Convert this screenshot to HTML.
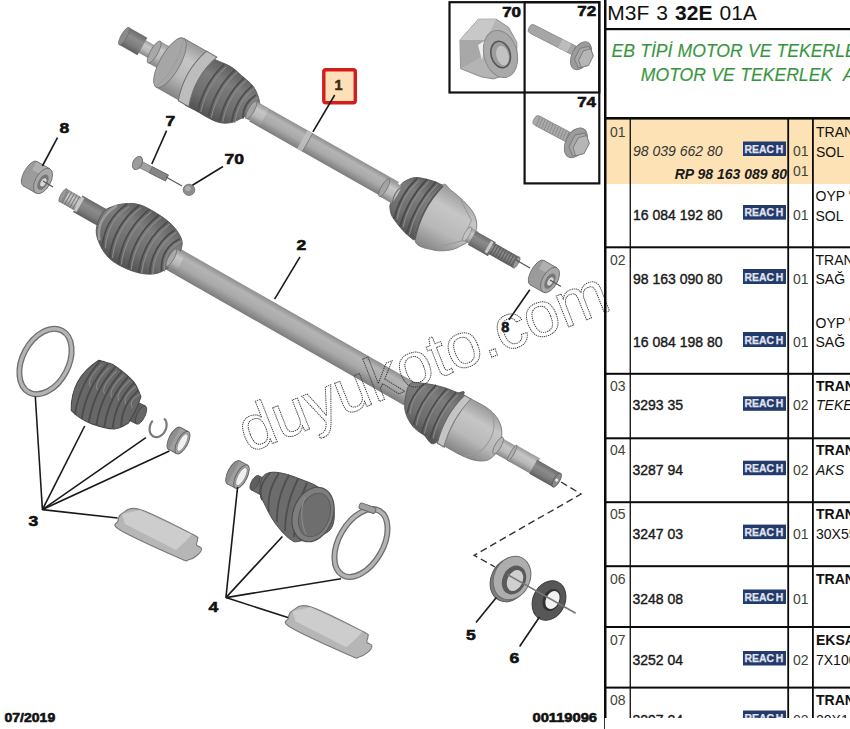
<!DOCTYPE html>
<html><head><meta charset="utf-8"><style>html,body{margin:0;padding:0;background:#fff;width:850px;height:729px;overflow:hidden}svg{display:block}</style></head>
<body><svg width="850" height="729" viewBox="0 0 850 729" font-family='"Liberation Sans", sans-serif'>
<defs>
<linearGradient id="gRod" x1="0" y1="0" x2="0" y2="1">
 <stop offset="0" stop-color="#8e8e8e"/><stop offset="0.25" stop-color="#b4b4b4"/><stop offset="0.6" stop-color="#a9a9a9"/><stop offset="1" stop-color="#7c7c7c"/></linearGradient>
<linearGradient id="gLight" x1="0" y1="0" x2="0" y2="1">
 <stop offset="0" stop-color="#9a9a9a"/><stop offset="0.3" stop-color="#c6c6c6"/><stop offset="0.65" stop-color="#b8b8b8"/><stop offset="1" stop-color="#858585"/></linearGradient>
<linearGradient id="gDark" x1="0" y1="0" x2="0" y2="1">
 <stop offset="0" stop-color="#6a6a6a"/><stop offset="0.35" stop-color="#8c8c8c"/><stop offset="0.7" stop-color="#7c7c7c"/><stop offset="1" stop-color="#5e5e5e"/></linearGradient>
<linearGradient id="gBoot" x1="0" y1="0" x2="0" y2="1">
 <stop offset="0" stop-color="#5e5e5e"/><stop offset="0.3" stop-color="#7c7c7c"/><stop offset="0.7" stop-color="#6e6e6e"/><stop offset="1" stop-color="#525252"/></linearGradient>
</defs>
<rect width="850" height="729" fill="#fff"/>
<g transform="translate(124.5,37.5) rotate(29.55)">
<rect x="150" y="-9.5" width="160" height="21.0" fill="url(#gRod)"/>
<rect x="205" y="-9.5" width="6" height="21" fill="#c2c2c2" opacity="0.8"/>
<line x1="211" y1="-9.5" x2="211" y2="11.5" stroke="#777" stroke-width="0.8"/>
<rect x="18" y="-8.2" width="16" height="14.4" fill="url(#gLight)"/>
<rect x="-1" y="-11" width="21" height="20" fill="url(#gDark)"/><ellipse cx="-1" cy="-1" rx="3.0" ry="10" fill="#8a8a8a" stroke="#6a6a6a" stroke-width="0.7"/>
<rect x="33" y="-14.5" width="13" height="25.0" fill="url(#gLight)"/><ellipse cx="33" cy="-2" rx="3.75" ry="12.5" fill="#a8a8a8" stroke="#6a6a6a" stroke-width="0.7"/>
<rect x="52" y="-28.5" width="28" height="56" fill="url(#gLight)"/>
<ellipse cx="52" cy="-0.5" rx="10" ry="28" fill="#a6a6a6" stroke="#7a7a7a" stroke-width="0.9"/>
<path d="M52,-28.5 Q62,-1 52,27.5" fill="none" stroke="#9a9a9a" stroke-width="0.8"/>
<line x1="52" y1="-28.5" x2="80" y2="-28.5" stroke="#7a7a7a" stroke-width="0.9"/><line x1="52" y1="27.5" x2="80" y2="27.5" stroke="#7a7a7a" stroke-width="0.9"/>
<path d="M86.0,-26.0 C86.7,-25.9 86.5,-25.3 90.0,-25.5 C93.5,-25.7 101.8,-27.2 107.0,-27.0 C112.2,-26.8 116.2,-25.5 121.0,-24.5 C125.8,-23.5 131.8,-22.8 136.0,-21.0 C140.2,-19.2 143.5,-16.2 146.0,-14.0 C148.5,-11.8 150.2,-9.0 151.0,-8.0 Q154.0,-5.5 151.0,-3.0 C150.6,-2.2 150.0,-0.5 148.5,2.0 C147.0,4.5 144.4,8.7 142.0,12.0 C139.6,15.3 137.5,19.3 134.0,22.0 C130.5,24.7 127.2,26.9 121.0,28.0 C114.8,29.1 102.8,28.3 97.0,28.5 C91.2,28.7 87.8,28.9 86.0,29.0 Q78.0,1.5 86.0,-26.0Z" fill="url(#gBoot)" stroke="#555" stroke-width="0.8"/>
<path d="M103,-25 Q95,1.0 103,27" fill="none" stroke="#8a8a8a" stroke-width="1.1"/>
<path d="M100,-26 Q92,1.0 100,28" fill="none" stroke="#4e4e4e" stroke-width="1.8"/>
<path d="M115,-25.5 Q107,0.75 115,27" fill="none" stroke="#8a8a8a" stroke-width="1.1"/>
<path d="M112,-26.5 Q104,0.75 112,28" fill="none" stroke="#4e4e4e" stroke-width="1.8"/>
<path d="M127,-23 Q119,1.0 127,25" fill="none" stroke="#8a8a8a" stroke-width="1.1"/>
<path d="M124,-24 Q116,1.0 124,26" fill="none" stroke="#4e4e4e" stroke-width="1.8"/>
<path d="M138,-20 Q130,0.0 138,20" fill="none" stroke="#8a8a8a" stroke-width="1.1"/>
<path d="M135,-21 Q127,0.0 135,21" fill="none" stroke="#4e4e4e" stroke-width="1.8"/>
<path d="M146,-14 Q138,-1.5 146,11" fill="none" stroke="#8a8a8a" stroke-width="1.1"/>
<path d="M143,-15 Q135,-1.5 143,12" fill="none" stroke="#4e4e4e" stroke-width="1.8"/>
<path d="M78,-28.5 L90,-28.5 Q80,0 90,28.5 L78,28.5 Q68,0 78,-28.5Z" fill="#bdbdbd" stroke="#6e6e6e" stroke-width="1"/>
<rect x="146" y="-9.5" width="15" height="20" fill="url(#gLight)"/><ellipse cx="146" cy="0.5" rx="3.0" ry="10" fill="#a6a6a6" stroke="#6a6a6a" stroke-width="0.7"/>
<path d="M314.0,-12.0 C315.3,-13.6 317.8,-19.1 322.0,-21.6 C326.2,-24.2 334.2,-26.2 339.0,-27.3 C343.8,-28.4 349.0,-28.3 351.0,-28.5 Q355.0,2.6 351.0,33.6 C348.8,33.1 342.5,32.3 337.5,30.6 C332.5,28.9 324.9,26.0 321.0,23.6 C317.1,21.2 315.2,17.3 314.0,16.0 Q309.0,2.0 314.0,-12.0Z" fill="url(#gBoot)" stroke="#555" stroke-width="0.8"/>
<path d="M327,-21 Q319,1.5 327,24" fill="none" stroke="#8a8a8a" stroke-width="1.1"/>
<path d="M324,-22 Q317,1.5 324,25" fill="none" stroke="#4a4a4a" stroke-width="1.8"/>
<path d="M336,-25 Q328,1.5 336,28" fill="none" stroke="#8a8a8a" stroke-width="1.1"/>
<path d="M333,-26 Q326,1.5 333,29" fill="none" stroke="#4a4a4a" stroke-width="1.8"/>
<path d="M345,-27 Q337,2.0 345,31" fill="none" stroke="#8a8a8a" stroke-width="1.1"/>
<path d="M342,-28 Q335,2.0 342,32" fill="none" stroke="#4a4a4a" stroke-width="1.8"/>
<rect x="300" y="-7.5" width="15" height="20" fill="url(#gLight)"/><ellipse cx="300" cy="2.5" rx="3.0" ry="10" fill="#a4a4a4" stroke="#6a6a6a" stroke-width="0.7"/>
<path d="M315,-7.5 Q310,2.5 315,12.5" fill="none" stroke="#666" stroke-width="1"/>
<path d="M349.0,-28.0 C351.3,-33.2 354.7,-28.7 359.0,-28.2 C363.3,-27.7 369.8,-26.6 375.0,-25.1 C380.2,-23.7 386.0,-21.9 390.0,-19.5 C394.0,-17.1 397.0,-14.1 399.0,-10.5 C401.0,-6.9 402.4,-2.0 402.0,2.0 C401.6,6.0 398.9,9.6 396.7,13.3 C394.4,17.0 392.4,20.8 388.5,24.0 C384.6,27.2 378.9,31.1 373.0,32.7 C367.1,34.3 357.7,38.6 353.0,33.6 C348.3,28.7 345.7,13.3 345.0,3.0 C344.3,-7.3 346.7,-22.8 349.0,-28.0Z" fill="url(#gLight)" stroke="#7a7a7a" stroke-width="0.8"/>
<path d="M350,-28 Q342,3 352,33" fill="none" stroke="#5a5a5a" stroke-width="2.2"/>
<path d="M372,-25 L392,-12 L394,10 L376,28" fill="none" stroke="#9a9a9a" stroke-width="1"/>
<rect x="393" y="-5.5" width="11" height="15.0" fill="url(#gLight)"/>
<ellipse cx="395" cy="2" rx="2.5" ry="8" fill="#c4c4c4" stroke="#888" stroke-width="0.7"/>
<rect x="401" y="-5" width="23" height="16" fill="url(#gDark)"/>
<rect x="420" y="-3.8" width="32" height="12.6" fill="url(#gDark)"/>
<rect x="419" y="-4" width="3" height="13" fill="#c8c8c8"/>
<line x1="425" y1="-3.5" x2="425" y2="8.5" stroke="#5a5a5a" stroke-width="1"/>
<line x1="428" y1="-3.5" x2="428" y2="8.5" stroke="#5a5a5a" stroke-width="1"/>
<line x1="431" y1="-3.5" x2="431" y2="8.5" stroke="#5a5a5a" stroke-width="1"/>
<line x1="434" y1="-3.5" x2="434" y2="8.5" stroke="#5a5a5a" stroke-width="1"/>
<line x1="437" y1="-3.5" x2="437" y2="8.5" stroke="#5a5a5a" stroke-width="1"/>
<line x1="440" y1="-3.5" x2="440" y2="8.5" stroke="#5a5a5a" stroke-width="1"/>
<line x1="443" y1="-3.5" x2="443" y2="8.5" stroke="#5a5a5a" stroke-width="1"/>
<line x1="446" y1="-3.5" x2="446" y2="8.5" stroke="#5a5a5a" stroke-width="1"/>
<line x1="449" y1="-3.5" x2="449" y2="8.5" stroke="#5a5a5a" stroke-width="1"/>
<ellipse cx="452" cy="2.5" rx="2" ry="6.3" fill="#999" stroke="#666" stroke-width="0.7"/>
</g>
<g transform="translate(62,197) rotate(29.68)">
<rect x="125" y="-13.6" width="275" height="25.2" fill="url(#gRod)"/>
<rect x="17" y="-11.5" width="29" height="19.0" fill="url(#gDark)"/>
<rect x="0" y="-9.5" width="19" height="15.0" fill="url(#gLight)"/><ellipse cx="0" cy="-2" rx="2.1" ry="7.5" fill="#999" stroke="#6a6a6a" stroke-width="0.7"/>
<rect x="17" y="-10" width="3" height="16" fill="#c8c8c8"/>
<line x1="3" y1="-9.5" x2="3" y2="5.5" stroke="#777" stroke-width="0.9"/>
<line x1="6" y1="-9.5" x2="6" y2="5.5" stroke="#777" stroke-width="0.9"/>
<line x1="9" y1="-9.5" x2="9" y2="5.5" stroke="#777" stroke-width="0.9"/>
<line x1="12" y1="-9.5" x2="12" y2="5.5" stroke="#777" stroke-width="0.9"/>
<line x1="15" y1="-9.5" x2="15" y2="5.5" stroke="#777" stroke-width="0.9"/>
<path d="M43.0,-6.0 C43.3,-10.6 45.5,-12.8 48.0,-16.0 C50.5,-19.2 54.1,-22.8 58.0,-25.4 C61.9,-28.0 66.1,-30.6 71.5,-31.8 C76.9,-33.0 84.0,-32.9 90.3,-32.7 C96.5,-32.5 103.5,-31.9 109.0,-30.4 C114.5,-28.9 120.3,-26.1 123.6,-23.5 C126.9,-20.9 127.9,-18.9 129.0,-15.0 C130.1,-11.1 130.3,-4.0 130.0,0.0 C129.7,4.0 128.7,5.9 127.0,9.2 C125.3,12.5 123.3,16.6 120.0,19.6 C116.7,22.6 112.1,25.2 107.0,27.0 C101.9,28.8 95.5,30.1 89.6,30.6 C83.7,31.1 77.2,31.2 71.8,29.9 C66.4,28.6 61.3,26.1 57.0,23.0 C52.7,19.9 48.3,16.4 46.0,11.6 C43.7,6.8 42.7,-1.4 43.0,-6.0Z" fill="url(#gBoot)" stroke="#555" stroke-width="0.8"/>
<path d="M52,-20 Q40,3 54,19" fill="none" stroke="#9a9a9a" stroke-width="2.5"/>
<path d="M63,-25 Q51,-1.0 63,23" fill="none" stroke="#8a8a8a" stroke-width="1.2"/>
<path d="M60,-26 Q48,-1.0 60,24" fill="none" stroke="#4a4a4a" stroke-width="1.7"/>
<path d="M74,-30 Q62,-1.0 74,28" fill="none" stroke="#8a8a8a" stroke-width="1.2"/>
<path d="M71,-31 Q59,-1.0 71,29" fill="none" stroke="#4a4a4a" stroke-width="1.7"/>
<path d="M85,-31.5 Q73,-1.0 85,29.5" fill="none" stroke="#8a8a8a" stroke-width="1.2"/>
<path d="M82,-32.5 Q70,-1.0 82,30.5" fill="none" stroke="#4a4a4a" stroke-width="1.7"/>
<path d="M96,-31.5 Q84,-1.25 96,29" fill="none" stroke="#8a8a8a" stroke-width="1.2"/>
<path d="M93,-32.5 Q81,-1.25 93,30" fill="none" stroke="#4a4a4a" stroke-width="1.7"/>
<path d="M107,-30 Q95,-1.5 107,27" fill="none" stroke="#8a8a8a" stroke-width="1.2"/>
<path d="M104,-31 Q92,-1.5 104,28" fill="none" stroke="#4a4a4a" stroke-width="1.7"/>
<path d="M117,-26 Q105,-2.0 117,22" fill="none" stroke="#8a8a8a" stroke-width="1.2"/>
<path d="M114,-27 Q102,-2.0 114,23" fill="none" stroke="#4a4a4a" stroke-width="1.7"/>
<path d="M126,-21 Q114,-3.5 126,14" fill="none" stroke="#8a8a8a" stroke-width="1.2"/>
<path d="M123,-22 Q111,-3.5 123,15" fill="none" stroke="#4a4a4a" stroke-width="1.7"/>
<rect x="125" y="-11.5" width="11" height="20" fill="url(#gLight)"/><ellipse cx="125" cy="-1.5" rx="2.8000000000000003" ry="10" fill="#a8a8a8" stroke="#6a6a6a" stroke-width="0.7"/>
<path d="M395.0,-10.0 C396.3,-13.7 401.2,-14.8 406.0,-17.0 C410.8,-19.2 417.9,-21.5 423.6,-23.0 C429.3,-24.5 436.1,-25.3 440.0,-25.8 C443.9,-26.3 445.8,-34.8 447.0,-26.0 C448.2,-17.2 449.5,18.1 447.0,27.0 C444.5,35.9 436.8,27.9 432.0,27.6 C427.2,27.3 422.5,27.2 418.0,25.4 C413.5,23.6 408.3,20.4 405.0,17.0 C401.7,13.6 399.7,9.5 398.0,5.0 C396.3,0.5 393.7,-6.3 395.0,-10.0Z" fill="url(#gBoot)" stroke="#555" stroke-width="0.8"/>
<path d="M410,-16 Q402,0.0 410,16" fill="none" stroke="#8a8a8a" stroke-width="1.1"/>
<path d="M407,-17 Q401,0.0 407,17" fill="none" stroke="#4a4a4a" stroke-width="1.6"/>
<path d="M421,-21 Q413,1.0 421,23" fill="none" stroke="#8a8a8a" stroke-width="1.1"/>
<path d="M418,-22 Q412,1.0 418,24" fill="none" stroke="#4a4a4a" stroke-width="1.6"/>
<path d="M432,-23 Q424,1.5 432,26" fill="none" stroke="#8a8a8a" stroke-width="1.1"/>
<path d="M429,-24 Q423,1.5 429,27" fill="none" stroke="#4a4a4a" stroke-width="1.6"/>
<path d="M442,-24.5 Q434,0.75 442,26" fill="none" stroke="#8a8a8a" stroke-width="1.1"/>
<path d="M439,-25.5 Q433,0.75 439,27" fill="none" stroke="#4a4a4a" stroke-width="1.6"/>
<path d="M448,-27 Q440,0 448,28 L456,28 Q448,0 456,-27Z" fill="#c4c4c4" stroke="#666" stroke-width="1"/>
<path d="M455,-27 L470,-27.5 C485,-27 495,-21 500,-11 C505,-1 506,10 500,18 C494,24 485,26.5 470,27 L455,27 Q449,0 455,-27Z" fill="url(#gLight)" stroke="#7a7a7a" stroke-width="0.8"/>
<path d="M478,-27 C488,-20 492,-10 492,0 C492,10 488,20 478,26" fill="none" stroke="#9a9a9a" stroke-width="1"/>
<rect x="500" y="-8.5" width="20" height="17.0" fill="url(#gLight)"/>
<ellipse cx="502" cy="0" rx="3" ry="9.5" fill="#b8b8b8" stroke="#777" stroke-width="0.8"/>
<rect x="518" y="-9.5" width="27" height="18" fill="url(#gLight)"/><ellipse cx="518" cy="-0.5" rx="1.8" ry="9" fill="#b0b0b0" stroke="#6a6a6a" stroke-width="0.7"/>
<rect x="543" y="-7" width="27" height="16" fill="url(#gDark)"/>
<ellipse cx="570" cy="1" rx="3" ry="8" fill="#8a8a8a" stroke="#555" stroke-width="0.8"/>
<circle cx="570" cy="1" r="1.5" fill="#eee"/>
</g>
<g transform="translate(43,181) rotate(29.6)"><ellipse cx="-15" cy="0" rx="6" ry="14" fill="#9a9a9a" stroke="#6a6a6a" stroke-width="0.8"/><rect x="-15" y="-14" width="15" height="28" fill="#9c9c9c"/><rect x="-15" y="-13.5" width="15" height="9" fill="#b0b0b0"/><line x1="-15" y1="-14" x2="0" y2="-14" stroke="#6a6a6a" stroke-width="0.8"/><line x1="-15" y1="14" x2="0" y2="14" stroke="#6a6a6a" stroke-width="0.8"/><ellipse cx="0" cy="0" rx="7.5" ry="14" fill="#a8a8a8" stroke="#6a6a6a" stroke-width="0.8"/><ellipse cx="0.5" cy="1" rx="4.5" ry="8.5" fill="#777" /><ellipse cx="1" cy="1" rx="2.5" ry="4.5" fill="#d8d8d8" /></g>
<line x1="43" y1="181" x2="53" y2="187" stroke="#555" stroke-width="1.3" />
<line x1="516" y1="260" x2="530" y2="268" stroke="#555" stroke-width="1.3" />
<g transform="translate(550,280) rotate(29.6)"><ellipse cx="-15" cy="0" rx="6" ry="14" fill="#9a9a9a" stroke="#6a6a6a" stroke-width="0.8"/><rect x="-15" y="-14" width="15" height="28" fill="#9c9c9c"/><rect x="-15" y="-13.5" width="15" height="9" fill="#b0b0b0"/><line x1="-15" y1="-14" x2="0" y2="-14" stroke="#6a6a6a" stroke-width="0.8"/><line x1="-15" y1="14" x2="0" y2="14" stroke="#6a6a6a" stroke-width="0.8"/><ellipse cx="0" cy="0" rx="7.5" ry="14" fill="#a8a8a8" stroke="#6a6a6a" stroke-width="0.8"/><ellipse cx="0.5" cy="1" rx="4.5" ry="8.5" fill="#777" /><ellipse cx="1" cy="1" rx="2.5" ry="4.5" fill="#d8d8d8" /></g>
<line x1="550" y1="280" x2="561" y2="286.5" stroke="#555" stroke-width="1.3" />
<g transform="translate(137.5,163) rotate(27)"><rect x="0" y="-3.3" width="33" height="6.6" fill="#a2a2a2" stroke="#7a7a7a" stroke-width="0.7"/><rect x="15" y="-3.3" width="18" height="6.6" fill="#858585" stroke="#666" stroke-width="0.7"/><ellipse cx="0" cy="0" rx="4.5" ry="7" fill="#9c9c9c" stroke="#6e6e6e" stroke-width="0.9"/></g>
<line x1="166" y1="177" x2="182" y2="186" stroke="#555" stroke-width="1.2" />
<ellipse cx="189" cy="189.8" rx="5.8" ry="5.6" fill="#8e8e8e" stroke="#6a6a6a" stroke-width="0.8"/>
<ellipse cx="188" cy="188.5" rx="2.8" ry="2.5" fill="#b0b0b0"/>
<text x="0" y="0" font-size="15" font-weight="bold" fill="#111" stroke="#111" stroke-width="0.6" text-anchor="start" transform="translate(59.5,133.4) scale(1.17,1)">8</text>
<line x1="57.5" y1="137.7" x2="42.4" y2="166" stroke="#1a1a1a" stroke-width="1.6" />
<text x="0" y="0" font-size="15" font-weight="bold" fill="#111" stroke="#111" stroke-width="0.6" text-anchor="start" transform="translate(165.5,126) scale(1.17,1)">7</text>
<line x1="166.6" y1="130.6" x2="151.8" y2="164" stroke="#1a1a1a" stroke-width="1.6" />
<text x="0" y="0" font-size="15" font-weight="bold" fill="#111" stroke="#111" stroke-width="0.6" text-anchor="start" transform="translate(224.5,164) scale(1.17,1)">70</text>
<line x1="223" y1="166.5" x2="192.4" y2="185.3" stroke="#1a1a1a" stroke-width="1.6" />
<text x="0" y="0" font-size="15" font-weight="bold" fill="#111" stroke="#111" stroke-width="0.6" text-anchor="start" transform="translate(296.5,250) scale(1.17,1)">2</text>
<line x1="300" y1="256.8" x2="274.6" y2="299.2" stroke="#1a1a1a" stroke-width="1.6" />
<text x="0" y="0" font-size="14.5" font-weight="bold" fill="#111" stroke="#111" stroke-width="0.6" text-anchor="start" transform="translate(501.2,331.5) scale(1.0,1)">8</text>
<line x1="529.8" y1="289.8" x2="509" y2="319.7" stroke="#1a1a1a" stroke-width="1.6" />
<rect x="323.8" y="69.8" width="31.5" height="33" rx="2" fill="#fde0b8" stroke="#d41c1c" stroke-width="3.4"/>
<text x="334.5" y="90.3" font-size="14.5" font-weight="bold" fill="#3a2c14" stroke="#3a2c14" stroke-width="0.5">1</text>
<line x1="334.7" y1="95" x2="312.9" y2="131.8" stroke="#1a1a1a" stroke-width="1.6" />
<ellipse cx="45.5" cy="361.5" rx="23" ry="35" fill="none" stroke="#6e6e6e" stroke-width="6" transform="rotate(28 45.5 361.5)"/>
<ellipse cx="45.5" cy="361.5" rx="23" ry="35" fill="none" stroke="#b4b4b4" stroke-width="3.4" transform="rotate(28 45.5 361.5)"/>
<g transform="translate(79.7,385.7) rotate(25.5)">
<rect x="58" y="-10" width="10" height="20" fill="#5e5e5e" stroke="#444" stroke-width="0.8"/>
<ellipse cx="68" cy="0" rx="4" ry="10" fill="#666" stroke="#444" stroke-width="0.8"/>
<path d="M6.0,-31.0 C7.3,-31.2 10.8,-32.2 14.0,-32.5 C17.2,-32.8 19.5,-33.8 25.0,-32.8 C30.5,-31.8 41.2,-29.4 47.0,-26.7 C52.8,-24.0 57.8,-18.2 60.0,-16.5 Q62.0,-1.8 60.0,13.0 C58.3,14.9 55.2,21.5 49.8,24.2 C44.4,26.9 33.9,28.6 27.6,29.3 C21.3,30.0 16.1,29.1 12.0,28.5 C7.9,27.9 4.5,26.4 3.0,26.0 Q-11.5,-2.5 6.0,-31.0Z" fill="#676767" stroke="#444" stroke-width="1"/>
<path d="M8,-32 Q-1,-2.0 8,28" fill="none" stroke="#4a4a4a" stroke-width="1.8"/>
<path d="M11,-29 Q3,-8.0 10,-4.0" fill="none" stroke="#8a8a8a" stroke-width="1"/>
<path d="M16,-32.3 Q7,-1.6499999999999986 16,29" fill="none" stroke="#4a4a4a" stroke-width="1.8"/>
<path d="M19,-29.299999999999997 Q11,-7.649999999999999 18,-3.6499999999999986" fill="none" stroke="#8a8a8a" stroke-width="1"/>
<path d="M24,-32.4 Q15,-1.549999999999999 24,29.3" fill="none" stroke="#4a4a4a" stroke-width="1.8"/>
<path d="M27,-29.4 Q19,-7.549999999999999 26,-3.549999999999999" fill="none" stroke="#8a8a8a" stroke-width="1"/>
<path d="M32,-31.5 Q23,-1.5 32,28.5" fill="none" stroke="#4a4a4a" stroke-width="1.8"/>
<path d="M35,-28.5 Q27,-7.5 34,-3.5" fill="none" stroke="#8a8a8a" stroke-width="1"/>
<path d="M40,-29.5 Q31,-1.5 40,26.5" fill="none" stroke="#4a4a4a" stroke-width="1.8"/>
<path d="M43,-26.5 Q35,-7.5 42,-3.5" fill="none" stroke="#8a8a8a" stroke-width="1"/>
<path d="M48,-26.5 Q39,-1.25 48,24" fill="none" stroke="#4a4a4a" stroke-width="1.8"/>
<path d="M51,-23.5 Q43,-7.25 50,-3.25" fill="none" stroke="#8a8a8a" stroke-width="1"/>
<path d="M55,-21 Q46,-1.0 55,19" fill="none" stroke="#4a4a4a" stroke-width="1.8"/>
<path d="M58,-18 Q50,-7.0 57,-3.0" fill="none" stroke="#8a8a8a" stroke-width="1"/>
</g>
<polyline points="164.7,419.2 165.2,419.8 165.6,420.4 165.9,421.1 166.2,421.9 166.4,422.7 166.5,423.5 166.6,424.3 166.6,425.2 166.5,426.0 166.4,426.9 166.3,427.8 166.0,428.7 165.7,429.5 165.4,430.4 164.9,431.2 164.5,432.0 164.0,432.7 163.4,433.4 162.8,434.1 162.2,434.7 161.5,435.2 160.8,435.7 160.1,436.1 159.4,436.5 158.6,436.7 157.9,436.9 157.1,437.1 156.4,437.1 155.7,437.1 155.0,437.0 154.3,436.8 153.7,436.5 153.0,436.2 152.5,435.8 151.9,435.3 151.5,434.8 151.0,434.2 150.6,433.6 150.3,432.9 150.0,432.1 149.8,431.3 149.7,430.5 149.6,429.7 149.6,428.8 149.7,428.0 149.8,427.1 149.9,426.2 150.2,425.3 150.5,424.5 150.8,423.6 151.3,422.8 151.7,422.0 152.2,421.3" fill="none" stroke="#7a7a7a" stroke-width="2.2" stroke-linecap="round"/>
<g transform="translate(178.5,440.5) rotate(28)"><ellipse cx="-4.5" cy="0" rx="5.25" ry="12.5" fill="#8e8e8e" stroke="#5e5e5e" stroke-width="0.9"/><rect x="-4.5" y="-12.5" width="9" height="25.0" fill="#9e9e9e"/><line x1="-4.5" y1="-12.5" x2="4.5" y2="-12.5" stroke="#5e5e5e" stroke-width="0.9"/><line x1="-4.5" y1="12.5" x2="4.5" y2="12.5" stroke="#5e5e5e" stroke-width="0.9"/><ellipse cx="4.5" cy="0" rx="5.25" ry="12.5" fill="#a4a4a4" stroke="#5e5e5e" stroke-width="0.9"/><ellipse cx="4.5" cy="0" rx="3.5000000000000004" ry="9.75" fill="#f0f0f0" stroke="#777" stroke-width="0.6"/></g>
<line x1="35.3" y1="396.5" x2="42.4" y2="509.6" stroke="#1a1a1a" stroke-width="1.6" />
<line x1="84.7" y1="426" x2="42.4" y2="509.6" stroke="#1a1a1a" stroke-width="1.6" />
<line x1="145.9" y1="437.6" x2="42.4" y2="509.6" stroke="#1a1a1a" stroke-width="1.6" />
<line x1="169.4" y1="451" x2="42.4" y2="509.6" stroke="#1a1a1a" stroke-width="1.6" />
<line x1="42.4" y1="509.6" x2="117.6" y2="518" stroke="#1a1a1a" stroke-width="1.6" />
<text x="0" y="0" font-size="15" font-weight="bold" fill="#111" stroke="#111" stroke-width="0.6" text-anchor="start" transform="translate(28.5,526) scale(1.17,1)">3</text>
<path d="M118.0,521.0 C118.3,518.2 118.3,515.4 122.0,513.5 C125.7,511.6 128.3,506.1 140.0,509.5 C151.7,512.9 182.4,529.1 192.0,534.0 C201.6,538.9 196.8,537.2 197.5,539.0 C198.2,540.8 195.8,543.4 196.5,545.0 C197.2,546.6 201.4,546.8 201.5,548.5 C201.6,550.2 199.2,553.6 197.0,555.5 C194.8,557.4 191.0,559.6 188.0,560.0 C185.0,560.4 190.3,563.0 179.0,558.0 C167.7,553.0 130.2,536.2 120.0,530.0 C109.8,523.8 117.7,523.8 118.0,521.0Z" fill="#b6b6b6" stroke="#7a7a7a" stroke-width="1.1"/>
<polygon points="122.0,514.0 140.0,510.0 192.0,534.5 186.0,541.0 176.0,550.0 125.0,524.0" fill="#cdcdcd"/>
<g transform="translate(237.5,474.5) rotate(28)"><ellipse cx="-4.5" cy="0" rx="5.46" ry="13" fill="#8e8e8e" stroke="#5e5e5e" stroke-width="0.9"/><rect x="-4.5" y="-13" width="9" height="26" fill="#9e9e9e"/><line x1="-4.5" y1="-13" x2="4.5" y2="-13" stroke="#5e5e5e" stroke-width="0.9"/><line x1="-4.5" y1="13" x2="4.5" y2="13" stroke="#5e5e5e" stroke-width="0.9"/><ellipse cx="4.5" cy="0" rx="5.46" ry="13" fill="#a4a4a4" stroke="#5e5e5e" stroke-width="0.9"/><ellipse cx="4.5" cy="0" rx="3.6400000000000006" ry="10.14" fill="#f0f0f0" stroke="#777" stroke-width="0.6"/></g>
<g transform="translate(261,486) rotate(28)"><rect x="-7" y="-8" width="12" height="16" fill="#6a6a6a" stroke="#4a4a4a" stroke-width="0.8"/><ellipse cx="-7" cy="0" rx="3.5" ry="8" fill="#5e5e5e" stroke="#4a4a4a" stroke-width="0.8"/></g>
<path d="M262.0,478.0 C263.7,474.8 266.4,473.2 270.0,472.5 C273.6,471.8 278.5,472.4 283.5,473.5 C288.5,474.6 294.0,476.6 300.0,479.0 C306.0,481.4 314.0,483.7 319.5,488.0 C325.0,492.3 331.2,498.0 333.0,505.0 C334.8,512.0 335.4,524.0 330.0,530.0 C324.6,536.0 307.2,539.5 300.5,541.0 C293.8,542.5 294.1,542.0 289.9,539.0 C285.6,536.0 279.3,529.0 275.0,523.0 C270.7,517.0 266.5,508.2 264.0,503.0 C261.5,497.8 260.3,496.2 260.0,492.0 C259.7,487.8 260.3,481.2 262.0,478.0Z" fill="#6c6c6c" stroke="#4a4a4a" stroke-width="1"/>
<path d="M270,473 Q257,486.5 262,500" fill="none" stroke="#4e4e4e" stroke-width="1.8"/>
<path d="M279,473 Q266,492.5 269,512" fill="none" stroke="#4e4e4e" stroke-width="1.8"/>
<path d="M289,475 Q276,498.5 277,522" fill="none" stroke="#4e4e4e" stroke-width="1.8"/>
<path d="M298,479 Q285,505.0 285,531" fill="none" stroke="#4e4e4e" stroke-width="1.8"/>
<path d="M307,483 Q294,510.0 294,537" fill="none" stroke="#4e4e4e" stroke-width="1.8"/>
<ellipse cx="313" cy="514.5" rx="20" ry="28" fill="#7e7e7e" stroke="#4e4e4e" stroke-width="1.2" transform="rotate(20 313 514.5)"/>
<ellipse cx="314.5" cy="515" rx="15" ry="22.5" fill="#6e6e6e" stroke="#5a5a5a" stroke-width="1" transform="rotate(20 314.5 515)"/>
<path d="M305,497 Q298,515 306,535" fill="none" stroke="#888" stroke-width="1.2"/>
<ellipse cx="361" cy="543" rx="22" ry="37" fill="none" stroke="#6e6e6e" stroke-width="6" transform="rotate(30 361 543)"/>
<ellipse cx="361" cy="543" rx="22" ry="37" fill="none" stroke="#b4b4b4" stroke-width="3.4" transform="rotate(30 361 543)"/>
<rect x="359" y="505" width="17" height="6" rx="2" fill="#a0a0a0" stroke="#666" stroke-width="1" transform="rotate(20 367 508)"/>
<line x1="237.6" y1="487" x2="225.9" y2="597.6" stroke="#1a1a1a" stroke-width="1.6" />
<line x1="282.4" y1="536.5" x2="225.9" y2="597.6" stroke="#1a1a1a" stroke-width="1.6" />
<line x1="341" y1="578.8" x2="225.9" y2="597.6" stroke="#1a1a1a" stroke-width="1.6" />
<line x1="289.4" y1="617.9" x2="225.9" y2="597.6" stroke="#1a1a1a" stroke-width="1.6" />
<text x="0" y="0" font-size="15" font-weight="bold" fill="#111" stroke="#111" stroke-width="0.6" text-anchor="start" transform="translate(208.5,612) scale(1.17,1)">4</text>
<path d="M288.4,618.2 C288.7,615.5 288.7,612.6 292.4,610.7 C296.1,608.8 298.7,603.3 310.4,606.7 C322.1,610.1 352.8,626.3 362.4,631.2 C372.0,636.1 367.1,634.4 367.9,636.2 C368.6,638.0 366.2,640.6 366.9,642.2 C367.6,643.8 371.8,644.0 371.9,645.7 C372.0,647.5 369.6,650.8 367.4,652.7 C365.1,654.6 361.4,656.8 358.4,657.2 C355.4,657.6 360.7,660.2 349.4,655.2 C338.1,650.2 300.6,633.4 290.4,627.2 C280.2,621.0 288.1,621.0 288.4,618.2Z" fill="#b6b6b6" stroke="#7a7a7a" stroke-width="1.1"/>
<polygon points="292.4,611.2 310.4,607.2 362.4,631.7 356.4,638.2 346.4,647.2 295.4,621.2" fill="#cdcdcd"/>
<polyline points="561,482 581,494 474.2,555.3 495,567" fill="none" stroke="#333" stroke-width="1.4" stroke-dasharray="7,4"/>
<ellipse cx="509" cy="580" rx="18" ry="22.5" fill="#7e7e7e" stroke="#555" stroke-width="1" transform="rotate(25 509 580)"/>
<ellipse cx="512" cy="578" rx="18" ry="22.5" fill="#adadad" stroke="#6a6a6a" stroke-width="1" transform="rotate(25 512 578)"/>
<ellipse cx="514" cy="580" rx="11.5" ry="15" fill="#5a5a5a" transform="rotate(25 514 580)"/>
<ellipse cx="515" cy="580.5" rx="7.5" ry="11" fill="#cfcfcf" transform="rotate(25 515 580.5)"/>
<ellipse cx="549" cy="600.5" rx="16" ry="20.5" fill="#575757" stroke="#3a3a3a" stroke-width="1" transform="rotate(25 549 600.5)"/>
<ellipse cx="551.5" cy="600" rx="8.5" ry="11.5" fill="#333" transform="rotate(25 551.5 600)"/>
<ellipse cx="552.5" cy="600" rx="6.5" ry="9.5" fill="#f2f2f2" transform="rotate(25 552.5 600)"/>
<line x1="507.4" y1="574.5" x2="575.7" y2="613.2" stroke="#777" stroke-width="1.6" />
<text x="0" y="0" font-size="15" font-weight="bold" fill="#111" stroke="#111" stroke-width="0.6" text-anchor="start" transform="translate(466,639.5) scale(1.17,1)">5</text>
<line x1="476" y1="622.5" x2="496.3" y2="597.4" stroke="#1a1a1a" stroke-width="1.6" />
<text x="0" y="0" font-size="15" font-weight="bold" fill="#111" stroke="#111" stroke-width="0.6" text-anchor="start" transform="translate(509.5,662.5) scale(1.17,1)">6</text>
<line x1="519.6" y1="646.5" x2="539.5" y2="617" stroke="#1a1a1a" stroke-width="1.6" />
<rect x="449.5" y="2.2" width="149.8" height="90.3" fill="none" stroke="#111" stroke-width="2.2"/>
<rect x="524.6" y="2.2" width="74.7" height="181.2" fill="none" stroke="#111" stroke-width="2.2"/>
<text x="0" y="0" font-size="14.5" font-weight="bold" fill="#111" stroke="#111" stroke-width="0.6" text-anchor="end" transform="translate(521,16.5) scale(1.17,1)">70</text>
<text x="0" y="0" font-size="14.5" font-weight="bold" fill="#111" stroke="#111" stroke-width="0.6" text-anchor="end" transform="translate(596.2,16.3) scale(1.17,1)">72</text>
<text x="0" y="0" font-size="14.5" font-weight="bold" fill="#111" stroke="#111" stroke-width="0.6" text-anchor="end" transform="translate(596,107.3) scale(1.17,1)">74</text>
<polygon points="460,40 478.4,19.2 496.2,19.2 508.6,27.4 516.8,42.5 516.8,61.7 508.6,74 493.5,78.9 481,76.8 460.6,68.6" fill="#b4b4b4" stroke="#8a8a8a" stroke-width="1"/>
<polygon points="460,40 478.4,19.2 496.2,19.2 486,40" fill="#c8c8c8"/>
<polygon points="460,40 486,40 480,58 460.6,68.6" fill="#a8a8a8"/>
<polygon points="478,45 486,40 482,60" fill="#f0f0f0"/>
<ellipse cx="500.5" cy="54" rx="16.5" ry="24" fill="#a9a9a9" stroke="#8a8a8a" stroke-width="1" transform="rotate(-15 500.5 54)"/>
<ellipse cx="500.5" cy="54.5" rx="9.5" ry="13.5" fill="#9c9c9c" stroke="#555" stroke-width="1.6" transform="rotate(-15 500.5 54)"/>
<ellipse cx="502" cy="56" rx="6" ry="10" fill="#c2c2c2" transform="rotate(-15 500.5 54)"/>
<g transform="translate(530,28) rotate(27)">
<rect x="-1" y="-4.7" width="54" height="9.4" rx="3.5" fill="#a6a6a6" stroke="#8a8a8a" stroke-width="0.8"/>
<rect x="34" y="-4.7" width="10" height="9.4" fill="#bdbdbd"/>
<ellipse cx="58" cy="1.5" rx="9" ry="15" fill="#9c9c9c" stroke="#7a7a7a" stroke-width="0.9"/>
<polygon points="68.3,7.5 61.0,13.5 53.7,7.5 53.7,-4.5 61.0,-10.5 68.3,-4.5" fill="#a8a8a8" stroke="#7a7a7a" stroke-width="0.9"/>
<polygon points="69.1,6.7 63.5,12.0 57.9,6.7 57.9,-3.8 63.5,-9.0 69.1,-3.8" fill="#b6b6b6" stroke="#7a7a7a" stroke-width="0.9"/>
</g>
<g transform="translate(535,119.5) rotate(28)">
<rect x="-1" y="-5.2" width="44" height="10.4" rx="3.5" fill="#aaaaaa" stroke="#8a8a8a" stroke-width="0.8"/>
<line x1="3" y1="-5" x2="4" y2="5" stroke="#8a8a8a" stroke-width="0.9"/>
<line x1="6" y1="-5" x2="7" y2="5" stroke="#8a8a8a" stroke-width="0.9"/>
<line x1="9" y1="-5" x2="10" y2="5" stroke="#8a8a8a" stroke-width="0.9"/>
<line x1="12" y1="-5" x2="13" y2="5" stroke="#8a8a8a" stroke-width="0.9"/>
<line x1="15" y1="-5" x2="16" y2="5" stroke="#8a8a8a" stroke-width="0.9"/>
<line x1="18" y1="-5" x2="19" y2="5" stroke="#8a8a8a" stroke-width="0.9"/>
<line x1="21" y1="-5" x2="22" y2="5" stroke="#8a8a8a" stroke-width="0.9"/>
<line x1="24" y1="-5" x2="25" y2="5" stroke="#8a8a8a" stroke-width="0.9"/>
<line x1="27" y1="-5" x2="28" y2="5" stroke="#8a8a8a" stroke-width="0.9"/>
<line x1="30" y1="-5" x2="31" y2="5" stroke="#8a8a8a" stroke-width="0.9"/>
<line x1="33" y1="-5" x2="34" y2="5" stroke="#8a8a8a" stroke-width="0.9"/>
<line x1="36" y1="-5" x2="37" y2="5" stroke="#8a8a8a" stroke-width="0.9"/>
<line x1="39" y1="-5" x2="40" y2="5" stroke="#8a8a8a" stroke-width="0.9"/>
<ellipse cx="47" cy="1.4" rx="10" ry="16" fill="#9c9c9c" stroke="#7a7a7a" stroke-width="0.9"/>
<polygon points="58.4,7.9 50.5,14.4 42.6,7.9 42.6,-5.1 50.5,-11.6 58.4,-5.1" fill="#a8a8a8" stroke="#7a7a7a" stroke-width="0.9"/>
<polygon points="59.2,7.1 53.0,12.9 46.8,7.1 46.8,-4.4 53.0,-10.1 59.2,-4.4" fill="#b6b6b6" stroke="#7a7a7a" stroke-width="0.9"/>
</g>
<text x="0" y="0" font-size="63" fill="none" stroke="#3a3a3a" stroke-width="0.95" stroke-dasharray="1.3,0.8" transform="translate(248.5,453) rotate(-21.5)">duyukoto.com</text>
<text x="0" y="0" font-size="13" font-weight="bold" fill="#111" stroke="#111" stroke-width="0.6" text-anchor="start" transform="translate(4.5,722.3) scale(1.08,1)">07/2019</text><text x="0" y="0" font-size="13" font-weight="bold" fill="#111" stroke="#111" stroke-width="0.6" text-anchor="start" transform="translate(532.5,722.3) scale(1.13,1)">00119096</text>
<rect x="606" y="119" width="244" height="65" fill="#fce2b4"/>
<text x="607.3" y="20" font-size="21" font-weight="normal" font-style="normal" fill="#111" text-anchor="start" word-spacing="1.2">M3F 3 <tspan font-weight="bold">32E</tspan> 01A</text>
<text x="611.5" y="56.5" font-size="17.6" font-weight="normal" font-style="italic" fill="#379140" text-anchor="start" word-spacing="0.3" stroke="#5fb865" stroke-width="0.2">EB TİPİ MOTOR VE TEKERLEK ARASI</text>
<text x="640.8" y="80.5" font-size="17.6" font-weight="normal" font-style="italic" fill="#379140" text-anchor="start" word-spacing="0.5" stroke="#5fb865" stroke-width="0.2">MOTOR VE TEKERLEK &#160;ARASI</text>
<rect x="604" y="0" width="2.5" height="718" fill="#0a0a0a"/>
<rect x="604" y="718" width="1" height="11" fill="#333"/>
<rect x="604" y="28" width="246" height="2.2" fill="#0a0a0a"/>
<rect x="604" y="117" width="246" height="2.6" fill="#0a0a0a"/>
<rect x="604" y="246.3" width="246" height="2" fill="#0a0a0a"/>
<rect x="604" y="372.8" width="246" height="2" fill="#0a0a0a"/>
<rect x="604" y="437.3" width="246" height="2" fill="#0a0a0a"/>
<rect x="604" y="501.2" width="246" height="2" fill="#0a0a0a"/>
<rect x="604" y="565.2" width="246" height="2" fill="#0a0a0a"/>
<rect x="604" y="626" width="246" height="2" fill="#0a0a0a"/>
<rect x="604" y="686.6" width="246" height="2" fill="#0a0a0a"/>
<rect x="629.6" y="119" width="1.3" height="599" fill="#0a0a0a"/>
<rect x="787.3" y="119" width="1.8" height="599" fill="#0a0a0a"/>
<rect x="812" y="119" width="1.8" height="599" fill="#0a0a0a"/>
<text x="610" y="136.6" font-size="14" font-weight="normal" font-style="normal" fill="#3f4538" text-anchor="start" >01</text>
<text x="633" y="156" font-size="14" font-weight="normal" font-style="italic" fill="#333" text-anchor="start" >98 039 662 80</text>
<rect x="743" y="141.5" width="43" height="14.5" fill="#223b6c"/><text x="744.6" y="152.6" font-size="10.4" font-weight="bold" fill="#e2e4f0" stroke="#e2e4f0" stroke-width="0.25">REAC<tspan dx="1.6">H</tspan></text>
<text x="793" y="156" font-size="14" font-weight="normal" font-style="normal" fill="#3f4538" text-anchor="start" >01</text>
<text x="816" y="137" font-size="14" font-weight="normal" font-style="normal" fill="#111" text-anchor="start" >TRANSMISYON</text>
<text x="816" y="156.5" font-size="14" font-weight="normal" font-style="normal" fill="#111" text-anchor="start" >SOL</text>
<text x="787" y="178.5" font-size="14" font-weight="bold" font-style="italic" fill="#1a1a1a" text-anchor="end" >RP 98 163 089 80</text>
<text x="793" y="175.6" font-size="14" font-weight="normal" font-style="normal" fill="#3f4538" text-anchor="start" >01</text>
<text x="633" y="220.3" font-size="14" font-weight="normal" font-style="normal" fill="#1a1a1a" text-anchor="start" stroke="#1a1a1a" stroke-width="0.4">16 084 192 80</text>
<rect x="743" y="205" width="43" height="14.7" fill="#223b6c"/><text x="744.6" y="216.29999999999998" font-size="10.4" font-weight="bold" fill="#e2e4f0" stroke="#e2e4f0" stroke-width="0.25">REAC<tspan dx="1.6">H</tspan></text>
<text x="793" y="220.3" font-size="14" font-weight="normal" font-style="normal" fill="#3f4538" text-anchor="start" >01</text>
<text x="815.5" y="201.4" font-size="14" font-weight="normal" font-style="normal" fill="#111" text-anchor="start" >OYP 'TRANS</text>
<text x="815.5" y="220.5" font-size="14" font-weight="normal" font-style="normal" fill="#111" text-anchor="start" >SOL</text>
<text x="610" y="265" font-size="14" font-weight="normal" font-style="normal" fill="#3f4538" text-anchor="start" >02</text>
<text x="633" y="284.3" font-size="14" font-weight="normal" font-style="normal" fill="#1a1a1a" text-anchor="start" stroke="#1a1a1a" stroke-width="0.4">98 163 090 80</text>
<rect x="743" y="269" width="43" height="15" fill="#223b6c"/><text x="744.6" y="280.6" font-size="10.4" font-weight="bold" fill="#e2e4f0" stroke="#e2e4f0" stroke-width="0.25">REAC<tspan dx="1.6">H</tspan></text>
<text x="793" y="284.3" font-size="14" font-weight="normal" font-style="normal" fill="#3f4538" text-anchor="start" >01</text>
<text x="815.5" y="265" font-size="14" font-weight="normal" font-style="normal" fill="#111" text-anchor="start" >TRANS</text>
<text x="815.5" y="284.3" font-size="14" font-weight="normal" font-style="normal" fill="#111" text-anchor="start" >SAĞ</text>
<text x="633" y="346.8" font-size="14" font-weight="normal" font-style="normal" fill="#1a1a1a" text-anchor="start" stroke="#1a1a1a" stroke-width="0.4">16 084 198 80</text>
<rect x="743" y="332" width="43" height="15" fill="#223b6c"/><text x="744.6" y="343.6" font-size="10.4" font-weight="bold" fill="#e2e4f0" stroke="#e2e4f0" stroke-width="0.25">REAC<tspan dx="1.6">H</tspan></text>
<text x="793" y="346.8" font-size="14" font-weight="normal" font-style="normal" fill="#3f4538" text-anchor="start" >01</text>
<text x="815.5" y="327.6" font-size="14" font-weight="normal" font-style="normal" fill="#111" text-anchor="start" >OYP 'TRANS</text>
<text x="815.5" y="346.8" font-size="14" font-weight="normal" font-style="normal" fill="#111" text-anchor="start" >SAĞ</text>
<text x="610" y="390.6" font-size="14" font-weight="normal" font-style="normal" fill="#3f4538" text-anchor="start" >03</text>
<text x="632.5" y="410.3" font-size="14" font-weight="normal" font-style="normal" fill="#1a1a1a" text-anchor="start" stroke="#1a1a1a" stroke-width="0.4">3293 35</text>
<rect x="743" y="396.3" width="43" height="14.5" fill="#223b6c"/><text x="744.6" y="407.40000000000003" font-size="10.4" font-weight="bold" fill="#e2e4f0" stroke="#e2e4f0" stroke-width="0.25">REAC<tspan dx="1.6">H</tspan></text>
<text x="793" y="410.3" font-size="14" font-weight="normal" font-style="normal" fill="#3f4538" text-anchor="start" >02</text>
<text x="816" y="390.6" font-size="14" font-weight="bold" font-style="normal" fill="#111" text-anchor="start" >TRANS</text>
<text x="816" y="410.3" font-size="14" font-weight="normal" font-style="italic" fill="#111" text-anchor="start" >TEKER</text>
<text x="610" y="455" font-size="14" font-weight="normal" font-style="normal" fill="#3f4538" text-anchor="start" >04</text>
<text x="632.5" y="474.7" font-size="14" font-weight="normal" font-style="normal" fill="#1a1a1a" text-anchor="start" stroke="#1a1a1a" stroke-width="0.4">3287 94</text>
<rect x="743" y="460.7" width="43" height="14.5" fill="#223b6c"/><text x="744.6" y="471.8" font-size="10.4" font-weight="bold" fill="#e2e4f0" stroke="#e2e4f0" stroke-width="0.25">REAC<tspan dx="1.6">H</tspan></text>
<text x="793" y="474.7" font-size="14" font-weight="normal" font-style="normal" fill="#3f4538" text-anchor="start" >02</text>
<text x="816" y="455" font-size="14" font-weight="bold" font-style="normal" fill="#111" text-anchor="start" >TRANS</text>
<text x="816" y="474.7" font-size="14" font-weight="normal" font-style="italic" fill="#111" text-anchor="start" >AKS</text>
<text x="610" y="518.5" font-size="14" font-weight="normal" font-style="normal" fill="#3f4538" text-anchor="start" >05</text>
<text x="632.5" y="538.6" font-size="14" font-weight="normal" font-style="normal" fill="#1a1a1a" text-anchor="start" stroke="#1a1a1a" stroke-width="0.4">3247 03</text>
<rect x="743" y="524.6" width="43" height="14.5" fill="#223b6c"/><text x="744.6" y="535.7" font-size="10.4" font-weight="bold" fill="#e2e4f0" stroke="#e2e4f0" stroke-width="0.25">REAC<tspan dx="1.6">H</tspan></text>
<text x="793" y="538.6" font-size="14" font-weight="normal" font-style="normal" fill="#3f4538" text-anchor="start" >01</text>
<text x="816" y="518.5" font-size="14" font-weight="bold" font-style="normal" fill="#111" text-anchor="start" >TRANS</text>
<text x="816" y="538.6" font-size="14" font-weight="normal" font-style="normal" fill="#111" text-anchor="start" >30X55</text>
<text x="610" y="584" font-size="14" font-weight="normal" font-style="normal" fill="#3f4538" text-anchor="start" >06</text>
<text x="632.5" y="603.5" font-size="14" font-weight="normal" font-style="normal" fill="#1a1a1a" text-anchor="start" stroke="#1a1a1a" stroke-width="0.4">3248 08</text>
<rect x="743" y="589.5" width="43" height="14.5" fill="#223b6c"/><text x="744.6" y="600.6" font-size="10.4" font-weight="bold" fill="#e2e4f0" stroke="#e2e4f0" stroke-width="0.25">REAC<tspan dx="1.6">H</tspan></text>
<text x="793" y="603.5" font-size="14" font-weight="normal" font-style="normal" fill="#3f4538" text-anchor="start" >01</text>
<text x="816" y="584" font-size="14" font-weight="bold" font-style="normal" fill="#111" text-anchor="start" >TRANS</text>
<text x="610" y="645" font-size="14" font-weight="normal" font-style="normal" fill="#3f4538" text-anchor="start" >07</text>
<text x="632.5" y="665" font-size="14" font-weight="normal" font-style="normal" fill="#1a1a1a" text-anchor="start" stroke="#1a1a1a" stroke-width="0.4">3252 04</text>
<rect x="743" y="651" width="43" height="14.5" fill="#223b6c"/><text x="744.6" y="662.1" font-size="10.4" font-weight="bold" fill="#e2e4f0" stroke="#e2e4f0" stroke-width="0.25">REAC<tspan dx="1.6">H</tspan></text>
<text x="793" y="665" font-size="14" font-weight="normal" font-style="normal" fill="#3f4538" text-anchor="start" >02</text>
<text x="816" y="645" font-size="14" font-weight="bold" font-style="normal" fill="#111" text-anchor="start" >EKSAN</text>
<text x="816" y="665" font-size="14" font-weight="normal" font-style="normal" fill="#111" text-anchor="start" >7X100</text>
<text x="610" y="705" font-size="14" font-weight="normal" font-style="normal" fill="#3f4538" text-anchor="start" >08</text>
<text x="632.5" y="724.5" font-size="14" font-weight="normal" font-style="normal" fill="#1a1a1a" text-anchor="start" stroke="#1a1a1a" stroke-width="0.4">3297 24</text>
<rect x="743" y="710.5" width="43" height="14.5" fill="#223b6c"/><text x="744.6" y="721.6" font-size="10.4" font-weight="bold" fill="#e2e4f0" stroke="#e2e4f0" stroke-width="0.25">REAC<tspan dx="1.6">H</tspan></text>
<text x="793" y="724.5" font-size="14" font-weight="normal" font-style="normal" fill="#3f4538" text-anchor="start" >02</text>
<text x="816" y="705" font-size="14" font-weight="bold" font-style="normal" fill="#111" text-anchor="start" >TRANS</text>
<text x="816" y="724.5" font-size="14" font-weight="normal" font-style="normal" fill="#111" text-anchor="start" >20X1</text>
<rect x="605" y="718" width="245" height="11" fill="#fff"/>
</svg></body></html>
